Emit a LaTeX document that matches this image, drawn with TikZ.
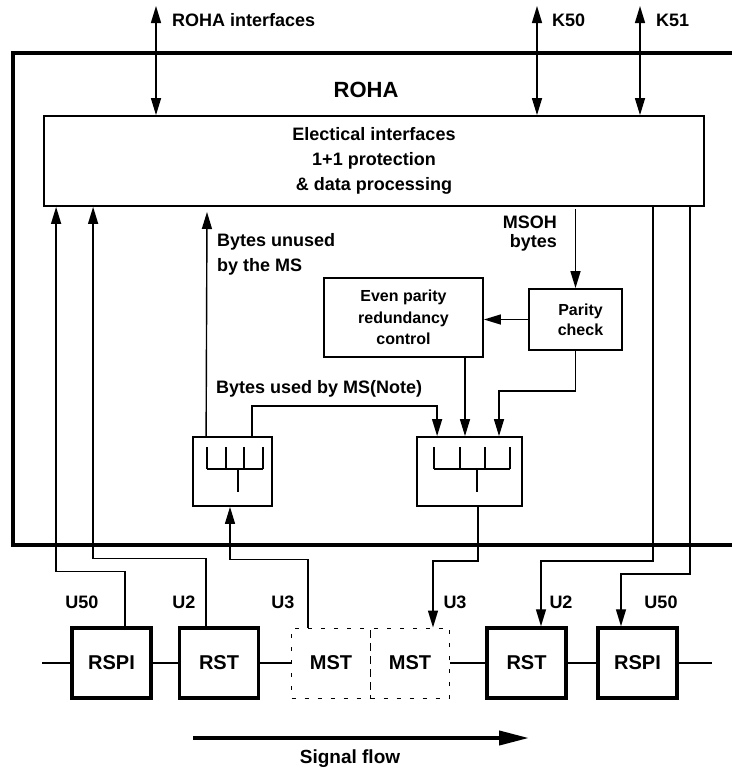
\documentclass[tikz,border=0pt]{standalone}
\usepackage{fontspec}
\setmainfont{Liberation Sans}
\usetikzlibrary{arrows.meta}

\begin{document}
\begin{tikzpicture}[x=1pt,y=-1pt,
        >={Triangle[length=17pt,width=10pt]},
        wire/.style={line width=1.4pt},
        box/.style={draw,line width=1.8pt,inner sep=0},
        lbl/.style={inner sep=0,font=\bfseries\fontsize{18}{25}\selectfont},
        boxtext/.style={align=center,font=\bfseries\fontsize{16}{21.5}\selectfont},
        secbox/.style={draw,line width=3.5pt,minimum width=79pt,minimum height=70pt,inner sep=0,font=\bfseries\fontsize{20}{24}\selectfont},
        dashbox/.style={secbox,line width=1pt,dash pattern=on 4pt off 9pt}]
        \useasboundingbox (0,0) rectangle (731,771);

        % Draw the ROHA frame
        \draw[line width=4pt] (740,53) -- (13,53) -- (13,545) -- (740,545);
        \node[lbl,font=\bfseries\fontsize{22}{26}\selectfont] (roha) at (366,90) {ROHA};

        % Draw the processing block
        \node[box,lbl,align=center,minimum width=660pt,minimum height=90pt] (elec) at (374,161)
            {Electical interfaces\\1+1 protection\\\& data processing};

        % Draw the external interfaces
        \coordinate (rohaif) at (156,6);
        \coordinate (k50) at (537,6);
        \coordinate (k51) at (640,6);
        \foreach \c in {rohaif,k50,k51}
            \draw[wire,<->] (\c) -- (\c |- elec.north);
        \node[lbl,anchor=west] (rohaifl) at (172,20) {ROHA interfaces};
        \node[lbl,anchor=west] (k50l) at (552,20) {K50};
        \node[lbl,anchor=west] (k51l) at (656,20) {K51};

        % Draw the parity blocks
        \node[box,boxtext,minimum width=159pt,minimum height=79pt] (even) at (403.5,317.5)
            {Even parity\\redundancy\\control};
        \node[box,boxtext,minimum width=93pt,minimum height=61pt,font=\bfseries\fontsize{16}{20}\selectfont] (parity) at (575.5,319.5)
            {\hspace*{10pt}Parity\\\hspace*{10pt}check};

        % Draw the byte selectors
        \node[box,minimum width=79pt,minimum height=69pt] (selL) at (232.5,471.5) {};
        \node[box,minimum width=105pt,minimum height=69pt] (selR) at (469.5,471.5) {};
        \foreach \x in {207,226,244,263}
            \draw[wire] (\x,447) -- (\x,469);
        \draw[wire] (207,469) -- (263,469) (238,469) -- (238,492);
        \foreach \x in {434,460,485,510}
            \draw[wire] (\x,447) -- (\x,469);
        \draw[wire] (434,469) -- (510,469) (477,469) -- (477,492);

        % Draw the byte paths
        \coordinate (unused) at (207,212);
        \draw[wire,->] ([xshift=14]selL.north west) -- (unused);
        \node[lbl,anchor=west,align=left] (unusedl) at (217,254.5) {Bytes unused\\by the MS};
        \draw[wire,->] ([xshift=19.5]selL.north) -- ++(0,-30) -| ([xshift=21]selR.north west);
        \node[lbl,anchor=west] (usedl) at (216,389) {Bytes used by MS(Note)};
        \coordinate (msoh) at (575.5,209);
        \draw[wire,->] (msoh) -- (parity.north);
        \node[lbl,anchor=east,align=right,font=\bfseries\fontsize{18}{19}\selectfont] (msohl) at (557,234) {MSOH\\bytes};
        \draw[wire,->] (parity.west) -- (parity.west -| even.east);
        \draw[wire,->] ([xshift=61.5]even.south) -- ([xshift=-4.5]selR.north);
        \draw[wire,->] (parity.south) -- ++(0,40) -| ([xshift=29.5]selR.north);

        % Draw the section units
        \foreach \name/\x/\txt in {rspiL/111.5/RSPI, rstL/219/RST, rstR/526.5/RST, rspiR/637.5/RSPI}
            \node[secbox] (\name) at (\x,663) {\txt};
        \node[dashbox] (mstL) at (331,663) {MST};
        \node[dashbox] (mstR) at (410,663) {MST};

        % Draw the signal line
        \coordinate (sigin) at (42,663);
        \coordinate (sigout) at (712,663);
        \draw[wire] (sigin) -- (rspiL.west) (rspiL.east) -- (rstL.west) (rstL.east) -- (mstL.west)
            (mstR.east) -- (rstR.west) (rstR.east) -- (rspiR.west) (rspiR.east) -- (sigout);

        % Draw the overhead paths
        \draw[wire,->] ([xshift=13.5]rspiL.north) -- ++(0,-55) -| ([xshift=13]elec.south west);
        \draw[wire,->] ([xshift=-13]rstL.north) -- ++(0,-68) -| ([xshift=50]elec.south west);
        \draw[wire,->] ([xshift=-23]mstL.north) -- ++(0,-68) -| ([xshift=-2.5]selL.south);
        \draw[wire,->] ([xshift=8.5]selR.south) -- ++(0,54) -| ([xshift=23]mstR.north);
        \draw[wire,->] ([xshift=-52]elec.south east) -- ++(0,354) -| ([xshift=14.5]rstR.north);
        \draw[wire,->] ([xshift=-15]elec.south east) -- ++(0,367) -| ([xshift=-16.5]rspiR.north);
        \foreach \name/\x/\txt in {u50l/82/U50, u2l/184/U2, u3l/283/U3, u3r/455/U3, u2r/561/U2, u50r/661/U50}
            \node[lbl] (\name) at (\x,602) {\txt};

        % Draw the signal flow arrow
        \coordinate (flowstart) at (193,738);
        \coordinate (flowend) at (529,738);
        \draw[line width=4pt,-{Triangle[length=30pt,width=14pt]}] (flowstart) -- (flowend);
        \node[lbl,font=\bfseries\fontsize{19}{23}\selectfont] (flowl) at (350,759) {Signal flow};
    \end{tikzpicture}
\end{document}
